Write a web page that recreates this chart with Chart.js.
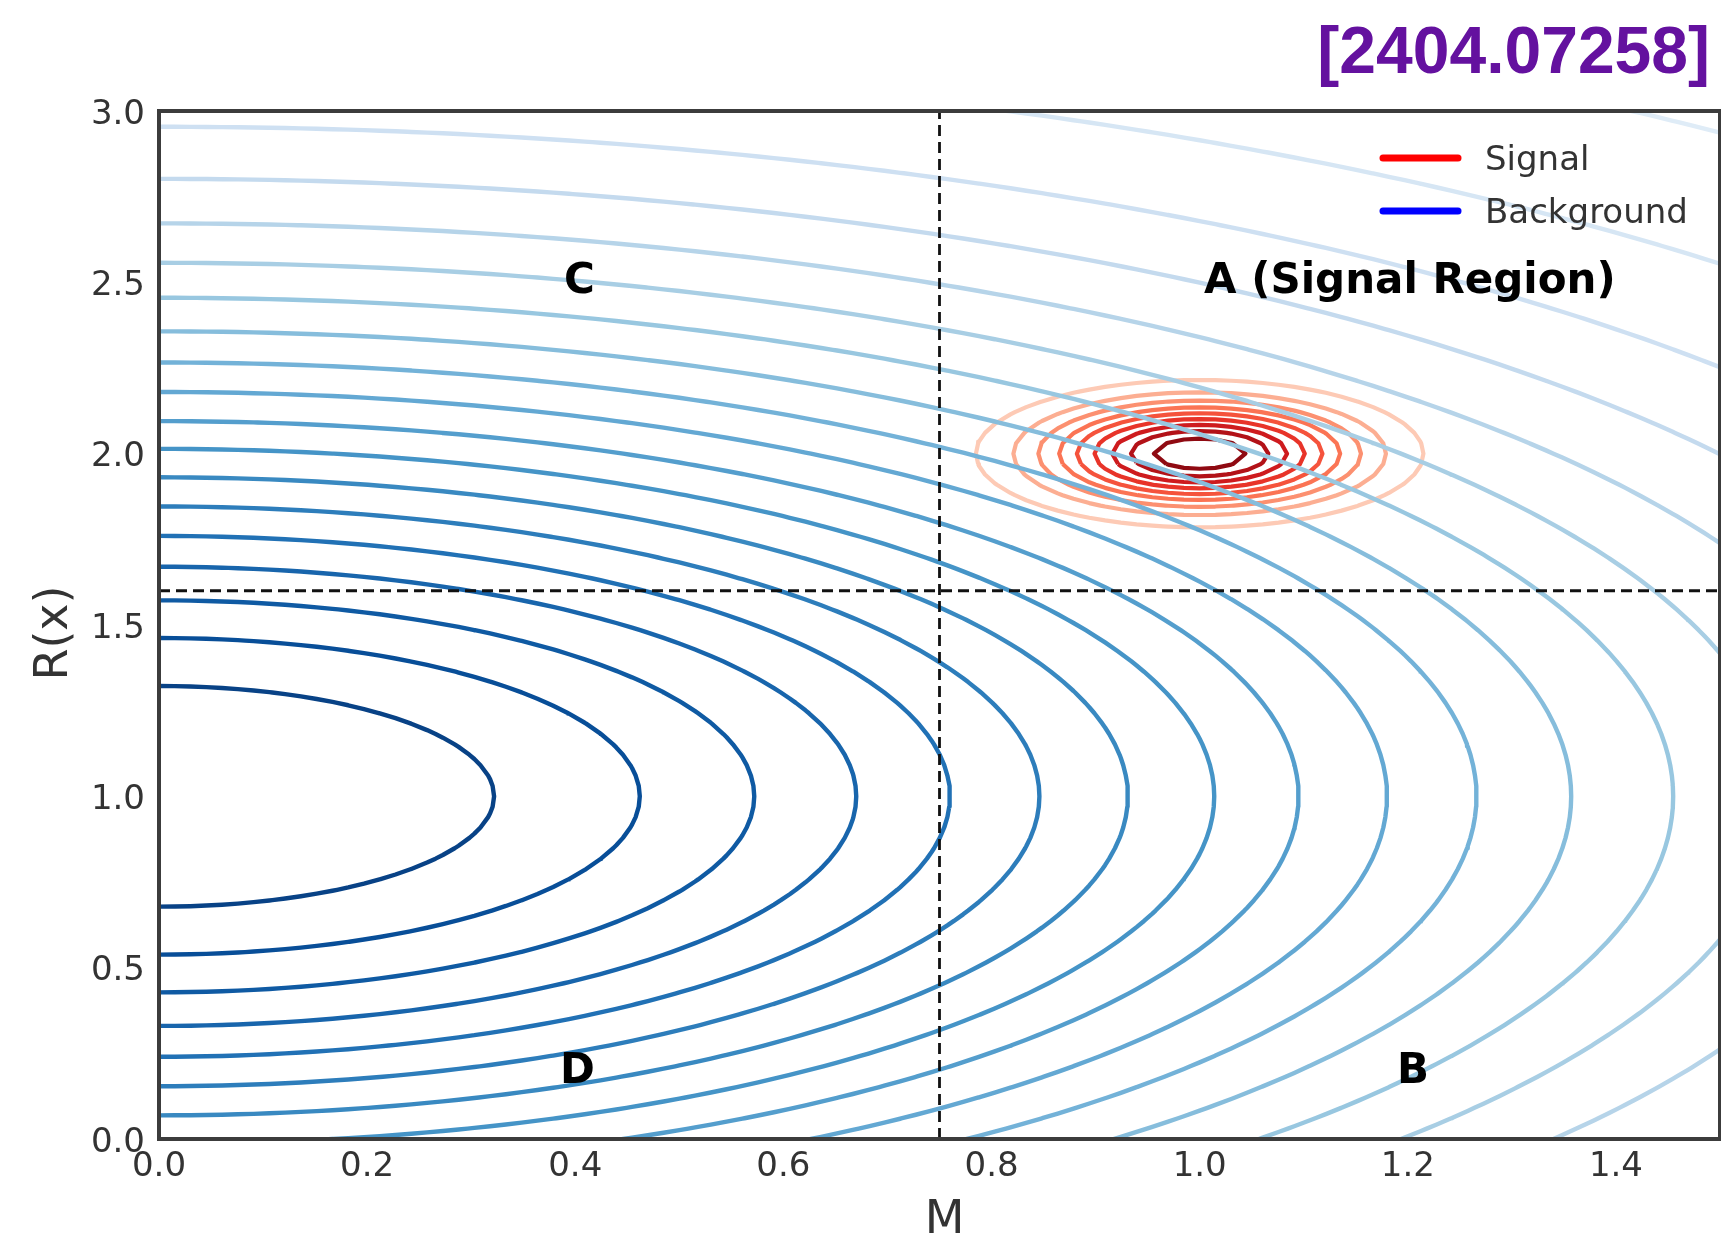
<!DOCTYPE html>
<html><head><meta charset="utf-8">
<script src="https://cdn.jsdelivr.net/npm/chart.js@4.4.1/dist/chart.umd.min.js"></script>
<style>html,body{margin:0;padding:0;background:#fff;} #wrap{width:1721px;height:1243px;position:relative;}</style>
</head><body><div id="wrap"><canvas id="c" width="1721" height="1243"></canvas></div>
<script>
// ---------------- values ----------------
const xTickValues = [0.0, 0.2, 0.4, 0.6, 0.8, 1.0, 1.2, 1.4];
const xTickLabels = ['0.0', '0.2', '0.4', '0.6', '0.8', '1.0', '1.2', '1.4'];
const yTickValues = [0.0, 0.5, 1.0, 1.5, 2.0, 2.5, 3.0];
const yTickLabels = ['0.0', '0.5', '1.0', '1.5', '2.0', '2.5', '3.0'];
const xRange = [0, 1.5];
const yRange = [0, 3.0];
// background contours: circles (in data units) around this centre, inner -> outer
const backgroundCenter = [0.0, 1.0];
const backgroundRadii = [0.322, 0.462, 0.572, 0.670, 0.760, 0.846, 0.931, 1.014, 1.095, 1.180,
                         1.266, 1.357, 1.455, 1.557, 1.672, 1.802, 1.954, 2.160, 2.450];
// signal contours, inner -> outer
const signalCenter = [1.0, 2.0];
const signalRadii = [0.044, 0.066, 0.084, 0.101, 0.118, 0.135, 0.155, 0.179, 0.215];
// cut lines
const cutM = 0.75;
const cutR = 1.6;
// region annotations (data coordinates)
const regionNames = ['C', 'A (Signal Region)', 'D', 'B'];
const regionM = [0.404, 1.202, 0.402, 1.205];
const regionR = [2.47, 2.47, 0.163, 0.163];
const legendNames = ['Signal', 'Background'];
const titleText = '[2404.07258]';
const xTitle = 'M';
const yTitle = 'R(x)';

// ---------------- helpers ----------------
const GRID_DX = 1.5 / 99, GRID_DY = 3 / 99;   // sampling grid of the contour lines
function ring(cx, cy, r) {
  const pts = [];
  const i0 = Math.ceil((cx - r) / GRID_DX), i1 = Math.floor((cx + r) / GRID_DX);
  for (let i = i0; i <= i1; i++) {
    const x = i * GRID_DX, h = Math.sqrt(Math.max(0, r * r - (x - cx) * (x - cx)));
    pts.push({x: x, y: cy + h}, {x: x, y: cy - h});
  }
  const j0 = Math.ceil((cy - r) / GRID_DY), j1 = Math.floor((cy + r) / GRID_DY);
  for (let j = j0; j <= j1; j++) {
    const y = j * GRID_DY, w = Math.sqrt(Math.max(0, r * r - (y - cy) * (y - cy)));
    pts.push({x: cx + w, y: y}, {x: cx - w, y: y});
  }
  pts.sort((a, b) => Math.atan2(a.y - cy, a.x - cx) - Math.atan2(b.y - cy, b.x - cx));
  pts.push({x: pts[0].x, y: pts[0].y});
  return pts;
}
const BLUES = ['#f7fbff','#deebf7','#c6dbef','#9ecae1','#6baed6','#4292c6','#2171b5','#08519c','#08306b'];
const REDS  = ['#fff5f0','#fee0d2','#fcbba1','#fc9272','#fb6a4a','#ef3b2c','#cb181d','#a50f15','#67000d'];
function hex2rgb(h) { return [1, 3, 5].map(i => parseInt(h.substr(i, 2), 16)); }
function cmap(stops, t) {
  t = Math.max(0, Math.min(1, t));
  const p = t * (stops.length - 1);
  const i = Math.min(Math.floor(p), stops.length - 2), f = p - i;
  const a = hex2rgb(stops[i]), b = hex2rgb(stops[i + 1]);
  const c = a.map((v, k) => Math.round(v + (b[k] - v) * f));
  return 'rgb(' + c.join(',') + ')';
}

// ---------------- datasets ----------------
const datasets = [];
datasets.push({
  data: [{x: cutM, y: yRange[0]}, {x: cutM, y: yRange[1]}],
  borderColor: '#111', borderWidth: 2.8, borderDash: [11, 6], order: 0
});
datasets.push({
  data: [{x: xRange[0], y: cutR}, {x: xRange[1], y: cutR}],
  borderColor: '#111', borderWidth: 2.8, borderDash: [11, 6], order: 0
});
backgroundRadii.forEach((r, k) => {
  datasets.push({
    data: ring(backgroundCenter[0], backgroundCenter[1], r),
    borderColor: cmap(BLUES, 0.93 - 0.045 * k), borderWidth: 4.4, order: 1
  });
});
signalRadii.forEach((r, k) => {
  datasets.push({
    data: ring(signalCenter[0], signalCenter[1], r),
    borderColor: cmap(REDS, 0.92 - 0.09 * k), borderWidth: 4.2, order: 2
  });
});
datasets.forEach(d => { d.showLine = true; d.pointRadius = 0; d.fill = false; d.tension = 0; d.borderJoinStyle = 'round'; });

// ---------------- decorations ----------------
const decor = {
  id: 'decor',
  afterDraw(chart) {
    const ctx = chart.ctx, a = chart.chartArea, xs = chart.scales.x, ys = chart.scales.y;
    ctx.save();
    // frame
    ctx.strokeStyle = '#3c3c3c'; ctx.lineWidth = 4;
    ctx.strokeRect(a.left, a.top, a.right - a.left, a.bottom - a.top);
    // axis titles
    ctx.fillStyle = '#333'; ctx.font = '46px "DejaVu Sans"';
    ctx.textAlign = 'center'; ctx.textBaseline = 'middle';
    ctx.fillText(xTitle, (a.left + a.right) / 2 + 5, 1221);
    ctx.save();
    ctx.translate(55, (a.top + a.bottom) / 2 + 8);
    ctx.rotate(-Math.PI / 2);
    ctx.fillText(yTitle, 0, 0);
    ctx.restore();
    // region labels
    ctx.fillStyle = '#000'; ctx.font = 'bold 42px "DejaVu Sans"';
    ctx.textAlign = 'center'; ctx.textBaseline = 'alphabetic';
    regionNames.forEach((t, i) => ctx.fillText(t, xs.getPixelForValue(regionM[i]), ys.getPixelForValue(regionR[i])));
    // legend
    const lx0 = a.right - 337, lx1 = a.right - 262, ly = [a.top + 47, a.top + 100];
    const lc = ['#ff0000', '#0000ff'];
    ctx.lineCap = 'round'; ctx.lineWidth = 7;
    ctx.font = '34px "DejaVu Sans"'; ctx.textAlign = 'left'; ctx.textBaseline = 'middle';
    legendNames.forEach((t, i) => {
      ctx.strokeStyle = lc[i];
      ctx.beginPath(); ctx.moveTo(lx0, ly[i]); ctx.lineTo(lx1, ly[i]); ctx.stroke();
      ctx.fillStyle = '#333';
      ctx.fillText(t, a.right - 235, ly[i] + 3);
    });
    // title
    ctx.fillStyle = '#64119f'; ctx.font = 'bold 66px "Liberation Sans", Arial, sans-serif';
    ctx.textAlign = 'right'; ctx.textBaseline = 'alphabetic';
    ctx.fillText(titleText, 1710, 73);
    ctx.restore();
  }
};

const tickFont = {family: 'DejaVu Sans', size: 34};
new Chart(document.getElementById('c'), {
  type: 'scatter',
  data: {datasets: datasets},
  options: {
    responsive: false, animation: false, devicePixelRatio: 1, events: [],
    layout: {padding: {top: 111, right: 1, bottom: 0, left: 0}},
    plugins: {legend: {display: false}, tooltip: {enabled: false}, title: {display: false}},
    scales: {
      x: {
        type: 'linear', min: xRange[0], max: xRange[1],
        grid: {display: false, drawTicks: false}, border: {display: false},
        afterBuildTicks: s => { s.ticks = xTickValues.map(v => ({value: v})); },
        ticks: {callback: (v, i) => xTickLabels[i], font: tickFont, color: '#333', padding: 8, maxRotation: 0, autoSkip: false},
        title: {display: false},
        afterFit: s => { s.height = 104; s.paddingLeft = 0; s.paddingRight = 0; s.paddingTop = 0; s.paddingBottom = 0; }
      },
      y: {
        type: 'linear', min: yRange[0], max: yRange[1],
        grid: {display: false, drawTicks: false}, border: {display: false},
        afterBuildTicks: s => { s.ticks = yTickValues.map(v => ({value: v})); },
        ticks: {callback: (v, i) => yTickLabels[i], font: tickFont, color: '#333', padding: 14, labelOffset: 4, autoSkip: false},
        title: {display: false},
        afterFit: s => { s.width = 159; s.paddingLeft = 0; s.paddingRight = 0; s.paddingTop = 0; s.paddingBottom = 0; }
      }
    }
  },
  plugins: [decor]
});
</script></body></html>
